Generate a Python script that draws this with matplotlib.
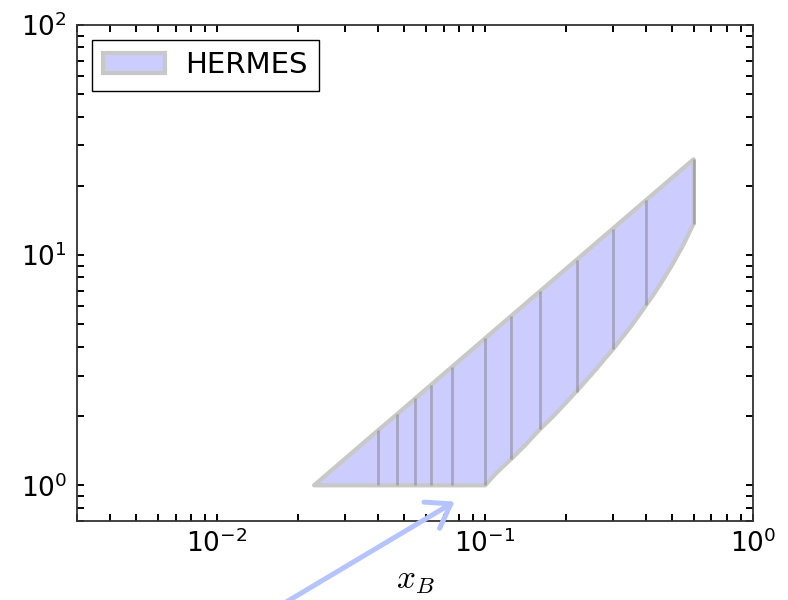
import matplotlib
matplotlib.use("Agg")
import matplotlib.pyplot as plt

plt.rcParams['mathtext.fontset'] = 'cm'
plt.rcParams['axes.unicode_minus'] = False

# HERMES kinematic coverage in (x_B, Q^2)
bin_edges = [0.023, 0.04, 0.047, 0.055, 0.063, 0.075, 0.1, 0.125, 0.16, 0.22, 0.3, 0.4, 0.6]
q2_upper = [1.0, 1.74, 2.04, 2.39, 2.74, 3.26, 4.35, 5.44, 6.96, 9.57, 13.05, 17.4, 26.1]
q2_lower = [1.0, 1.0, 1.0, 1.0, 1.0, 1.0, 1.0, 1.3, 1.75, 2.55, 3.9, 6.1, 13.7]

# lower boundary (W^2 cut) sampled more finely
w_cut_x = [0.1, 0.11, 0.125, 0.14, 0.16, 0.18, 0.2, 0.22, 0.24, 0.26, 0.28, 0.3,
           0.33, 0.35, 0.38, 0.4, 0.42, 0.45, 0.48, 0.5, 0.52, 0.55, 0.57, 0.6]
w_cut_q2 = [1.0, 1.13, 1.3, 1.48, 1.75, 2.0, 2.28, 2.57, 2.88, 3.2, 3.55, 3.9,
            4.49, 4.9, 5.59, 6.1, 6.6, 7.45, 8.42, 9.1, 9.88, 11.1, 12.1, 13.7]

x_ticks = [1e-2, 1e-1, 1e0]
y_ticks = [1e0, 1e1, 1e2]
xlim = (0.003, 1.0)
ylim = (0.7, 100.0)

fig = plt.figure(figsize=(7.88, 6.0), dpi=100)
ax = fig.add_axes([77 / 788, 1 - 521 / 600, (753 - 77) / 788, (521 - 25) / 600])
ax.set_xscale('log')
ax.set_yscale('log')

# outline: upper edge (y cut) then lower edge (W^2 cut) back to the start
poly_x = list(bin_edges) + w_cut_x[::-1] + [bin_edges[0]]
poly_y = list(q2_upper) + w_cut_q2[::-1] + [q2_lower[0]]
ax.fill(poly_x, poly_y, facecolor='#ccccff', edgecolor='#c8c8c8', lw=3,
        joinstyle='round', label='HERMES', zorder=2)

# bin boundaries
ax.vlines(bin_edges[1:], q2_lower[1:], q2_upper[1:], colors='gray', alpha=0.5,
          lw=2, zorder=3)

ax.set_xticks(x_ticks)
ax.set_yticks(y_ticks)
ax.set_xlim(*xlim)
ax.set_ylim(*ylim)

ax.tick_params(which='both', direction='in', top=True, right=True,
               length=5, width=1.4, color='black')
ax.tick_params(axis='x', which='major', labelsize=19, pad=6)
ax.tick_params(axis='y', which='major', labelsize=19, pad=7)
for sp in ax.spines.values():
    sp.set_color('#333333')
    sp.set_linewidth(1.3)

ax.set_xlabel(r'$x_B$', fontsize=24, labelpad=4)

leg = ax.legend(loc='upper left', fontsize=21, fancybox=False, framealpha=1,
                edgecolor='black', handlelength=2.1, handletextpad=0.7,
                borderpad=0.4)
leg.get_frame().set_linewidth(1.0)

# pointer toward the low-x corner of the coverage
ax.annotate('', xy=(0.077, 0.85), xycoords='data',
            xytext=(0.342, -0.02), textcoords='figure fraction',
            annotation_clip=False,
            arrowprops=dict(arrowstyle='->, head_length=0.8, head_width=0.55',
                            color='#b5c4ff', lw=3.6, mutation_scale=20,
                            connectionstyle='arc3,rad=0.0',
                            shrinkA=0, shrinkB=0, capstyle='round'),
            zorder=6)

fig.savefig('out.png', dpi=100)
